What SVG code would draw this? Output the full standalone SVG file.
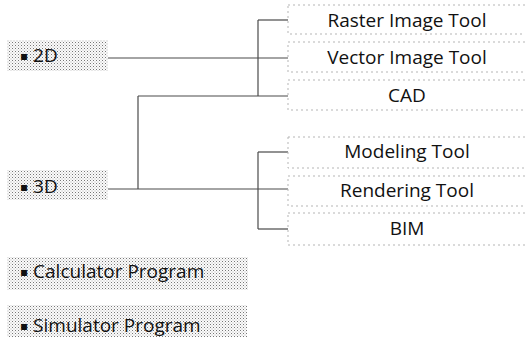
<svg xmlns="http://www.w3.org/2000/svg" width="525" height="338" viewBox="0 0 525 338">
  <defs>
    <pattern id="dots" x="0" y="0" width="3" height="3" patternUnits="userSpaceOnUse">
      <rect width="3" height="3" fill="#fbfbfb"/>
      <rect x="0" y="0" width="1" height="1" fill="#777777"/>
      <rect x="1.5" y="1.5" width="1" height="1" fill="#b0b0b0"/>
    </pattern>
  </defs>
  <style>
    .cat rect { fill: url(#dots); stroke: none; }
    .cat text { font-family: "Open Sans", "Noto Sans", "DejaVu Sans", sans-serif; font-size: 19px; fill: #111; }
    .tool rect { fill: #ffffff; stroke: #b5b5b5; stroke-width: 1; stroke-dasharray: 2 3; }
    .tool text { font-family: "Open Sans", "Noto Sans", "DejaVu Sans", sans-serif; font-size: 19px; fill: #111; text-anchor: middle; }
    .conn line { stroke: #4a4a4a; stroke-width: 1.2; fill: none; }
  </style>

  <rect width="525" height="338" fill="#ffffff"/>

  <g id="connectors" class="conn">
    <line x1="108" y1="58" x2="288" y2="58"/>
    <line x1="258" y1="20" x2="258" y2="96"/>
    <line x1="258" y1="20" x2="288" y2="20"/>
    <line x1="138" y1="96" x2="288" y2="96"/>
    <line x1="138" y1="96" x2="138" y2="189"/>
    <line x1="108" y1="189" x2="288" y2="189"/>
    <line x1="258" y1="152" x2="258" y2="229"/>
    <line x1="258" y1="152" x2="288" y2="152"/>
    <line x1="258" y1="229" x2="288" y2="229"/>
  </g>

  <g id="n2d" class="cat">
    <rect x="7" y="40" width="101" height="31"/>
    <text x="20" y="62"><tspan font-size="12" dy="-2">▪</tspan><tspan dy="2"> 2D</tspan></text>
  </g>
  <g id="n3d" class="cat">
    <rect x="7" y="170" width="101" height="30"/>
    <text x="20" y="193"><tspan font-size="12" dy="-2">▪</tspan><tspan dy="2"> 3D</tspan></text>
  </g>
  <g id="ncalc" class="cat">
    <rect x="7" y="257" width="241" height="33"/>
    <text x="20" y="278"><tspan font-size="12" dy="-2">▪</tspan><tspan dy="2"> Calculator Program</tspan></text>
  </g>
  <g id="nsim" class="cat">
    <rect x="7" y="305" width="240" height="32"/>
    <text x="20" y="332"><tspan font-size="12" dy="-2">▪</tspan><tspan dy="2"> Simulator Program</tspan></text>
  </g>

  <g id="raster" class="tool">
    <rect x="288" y="5" width="240" height="29"/>
    <text x="407" y="27">Raster Image Tool</text>
  </g>
  <g id="vector" class="tool">
    <rect x="288" y="42" width="240" height="30"/>
    <text x="407" y="64">Vector Image Tool</text>
  </g>
  <g id="cad" class="tool">
    <rect x="288" y="80" width="240" height="30"/>
    <text x="407" y="102">CAD</text>
  </g>
  <g id="modeling" class="tool">
    <rect x="288" y="137" width="240" height="31"/>
    <text x="407" y="158">Modeling Tool</text>
  </g>
  <g id="rendering" class="tool">
    <rect x="288" y="176" width="240" height="30"/>
    <text x="407" y="197">Rendering Tool</text>
  </g>
  <g id="bim" class="tool">
    <rect x="288" y="213" width="240" height="32"/>
    <text x="407" y="235">BIM</text>
  </g>
</svg>
